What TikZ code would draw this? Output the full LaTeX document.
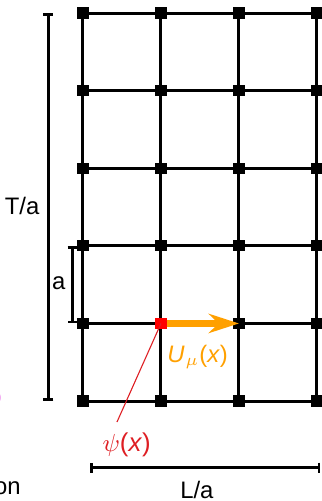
\documentclass[tikz,border=0pt]{standalone}
\usepackage{fontspec}
\setmainfont{Liberation Sans}
\usepackage{amsmath}
\usetikzlibrary{arrows.meta}
\definecolor{linkcol}{RGB}{255,160,0}
\definecolor{sitecol}{RGB}{222,30,35}
\definecolor{cutcol}{RGB}{230,90,230}

\begin{document}
\begin{tikzpicture}[x=1cm, y=0.995cm, line width=1.1pt,
        font=\fontsize{8.7}{10}\selectfont,
        site/.style={fill=black, minimum size=0.145cm, inner sep=0pt, outer sep=0pt},
        scalebar/.style={line width=1pt, {Bar[width=3.8pt]}-{Bar[width=3.8pt]}}]
        \useasboundingbox (-1.064,-1.288) rectangle (3.064,5.168);
        \clip (-1.064,-1.288) rectangle (3.064,5.168);

        % 格点
        \foreach \i in {0,...,3}
            \foreach \j in {0,...,5}
                \node[site] (p-\i-\j) at (\i,\j) {};

        % 连线
        \foreach \j in {0,...,5} {
            \foreach \i/\k in {0/1,1/2,2/3}
                \draw (p-\i-\j) -- (p-\k-\j);
            \coordinate (e-\j) at (3.3,\j);
            \draw (p-3-\j) -- (e-\j);
        }
        \foreach \i in {0,...,3} {
            \foreach \j/\k in {0/1,1/2,2/3,3/4,4/5}
                \draw (p-\i-\j) -- (p-\i-\k);
        }

        % 标尺
        \coordinate (t-bot) at (-0.445,0);
        \coordinate (t-top) at (-0.445,5);
        \draw[scalebar] (t-bot) -- (t-top);
        \node (t-lab) at (-0.78,2.51) {T/a};

        \coordinate (a-bot) at (-0.13,1);
        \coordinate (a-top) at (-0.13,2);
        \draw[scalebar] (a-bot) -- (a-top);
        \node (a-lab) at (-0.31,1.52) {a};

        \coordinate (l-left) at (0.09,-0.86);
        \coordinate (l-right) at (3.045,-0.86);
        \draw[scalebar] (l-left) -- (l-right);
        \node (l-lab) at (1.46,-1.15) {L/a};

        % 场与链变量
        \node[site, fill=red] (psi-site) at (p-1-1) {};
        \draw[-{Stealth[length=11pt, width=7pt]}, linkcol, line width=2.4pt]
            (psi-site) -- (p-2-1.center);
        \node[text=linkcol] (u-lab) at (1.47,0.57) {\textit{U}\kern0.3pt$_{\mu}$(\textit{x})};

        \coordinate (psi-end) at (0.436,-0.27);
        \draw[sitecol, line width=0.4pt] (psi-site.center) -- (psi-end);
        \node[text=sitecol, font=\fontsize{9.4}{11}\selectfont] (psi-lab) at (0.56,-0.57) {$\psi$(\textit{x})};

        % 边缘
        \node[anchor=base east, inner sep=0pt] (cut-a) at (-0.78,-1.21) {on};
        \node[anchor=east, inner sep=0pt, text=cutcol] (cut-b) at (-1.025,0.04) {o};
    \end{tikzpicture}
\end{document}
